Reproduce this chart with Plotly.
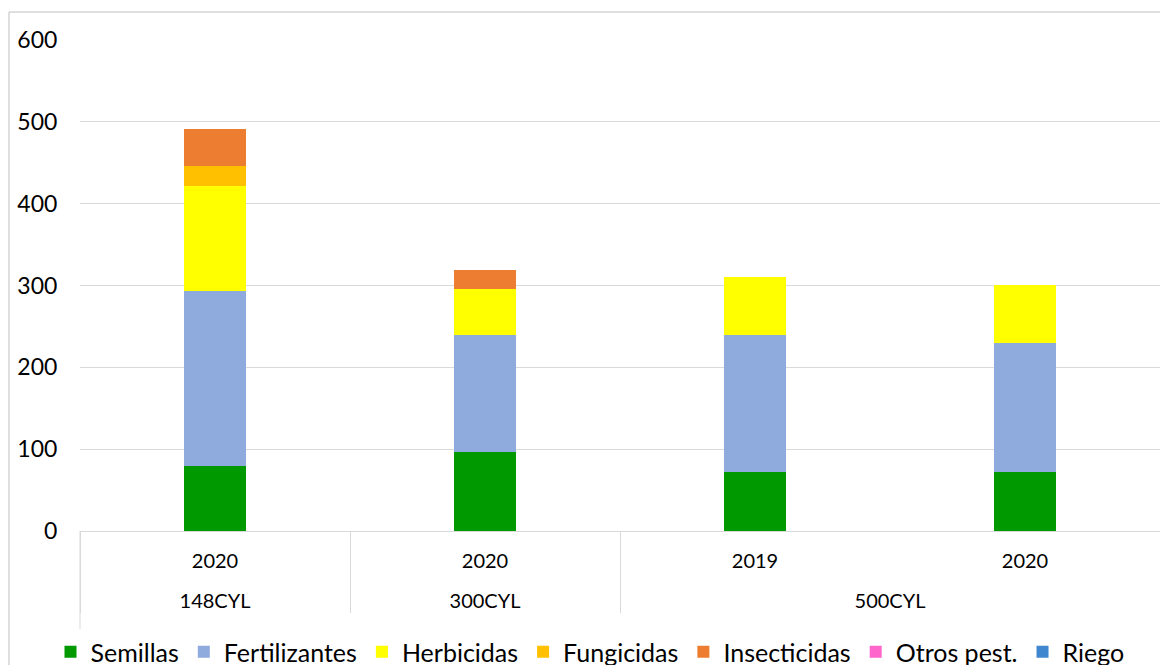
import plotly.graph_objects as go

groups = ["148CYL", "300CYL", "500CYL", "500CYL"]
years = ["2020", "2020", "2019", "2020"]

series_names = ["Semillas", "Fertilizantes", "Herbicidas", "Fungicidas", "Insecticidas", "Otros pest.", "Riego"]
semillas = [80, 96, 72, 72]
fertilizantes = [213, 144, 167, 158]
herbicidas = [129, 56, 71, 71]
fungicidas = [24, 0, 0, 0]
insecticidas = [45, 23, 0, 0]
otros_pest = [0, 0, 0, 0]
riego = [0, 0, 0, 0]

colors = ["#009900", "#8FAADC", "#FFFF00", "#FFC000", "#ED7D31", "#FF66CC", "#3F88D0"]
values = [semillas, fertilizantes, herbicidas, fungicidas, insecticidas, otros_pest, riego]

FONT = "Lato, sans-serif"

# The page body has an 8px margin, so the figure is sized to fill the rest of the window.
W, H = 1160, 657
L, R, T, B = 72, 8, 32, 134
PW, PH = W - L - R, H - T - B

# Inner labels: zero-width spaces keep each bar distinct so the trace order is preserved;
# a trailing blank line spaces the two label rows like the original.
inner_labels = [y + "\u200b" * i + "<br>\u00a0" for i, y in enumerate(years)]

fig = go.Figure()
for name, vals, col in zip(series_names, values, colors):
    fig.add_trace(go.Bar(
        x=[groups, inner_labels], y=vals, name=name,
        marker=dict(color=col, line=dict(width=0)),
    ))

fig.update_layout(
    barmode="stack",
    bargap=0.774,
    width=W, height=H,
    margin=dict(l=L, r=R, t=T, b=B, autoexpand=False),
    plot_bgcolor="white", paper_bgcolor="white",
    font=dict(family=FONT, color="#000000"),
    legend=dict(
        orientation="h", xref="container", yref="container",
        x=582 / W, xanchor="center", y=1 - 644 / H, yanchor="middle",
        font=dict(size=25, family=FONT, color="#000000"),
        itemwidth=30, traceorder="normal",
    ),
    yaxis=dict(
        range=[0, 600], dtick=100, showgrid=True, gridcolor="#D9D9D9", gridwidth=1,
        zeroline=False, showline=False, ticks="outside", ticklen=17,
        tickcolor="rgba(0,0,0,0)", automargin=False,
        tickfont=dict(size=23, family=FONT, color="#000000"),
    ),
    xaxis=dict(
        type="multicategory", showline=True, linecolor="#D9D9D9", linewidth=1,
        showdividers=True, dividercolor="#D9D9D9", dividerwidth=1,
        tickfont=dict(size=20, family=FONT, color="#000000"),
        ticks="", ticklabelstandoff=12, automargin=False,
    ),
    shapes=[
        dict(type="rect", xref="paper", yref="paper",
             x0=(1 - L) / PW, x1=(1157 - L) / PW,
             y0=-(B + 10) / PH, y1=1 + (T - 4) / PH,
             line=dict(color="#BFBFBF", width=1), fillcolor="rgba(0,0,0,0)", layer="below"),
        dict(type="line", xref="paper", yref="paper",
             x0=0, x1=0, y0=0, y1=-(622 - (T + PH)) / PH,
             line=dict(color="#D9D9D9", width=1), layer="below"),
    ],
)

fig.write_html("out.html")
